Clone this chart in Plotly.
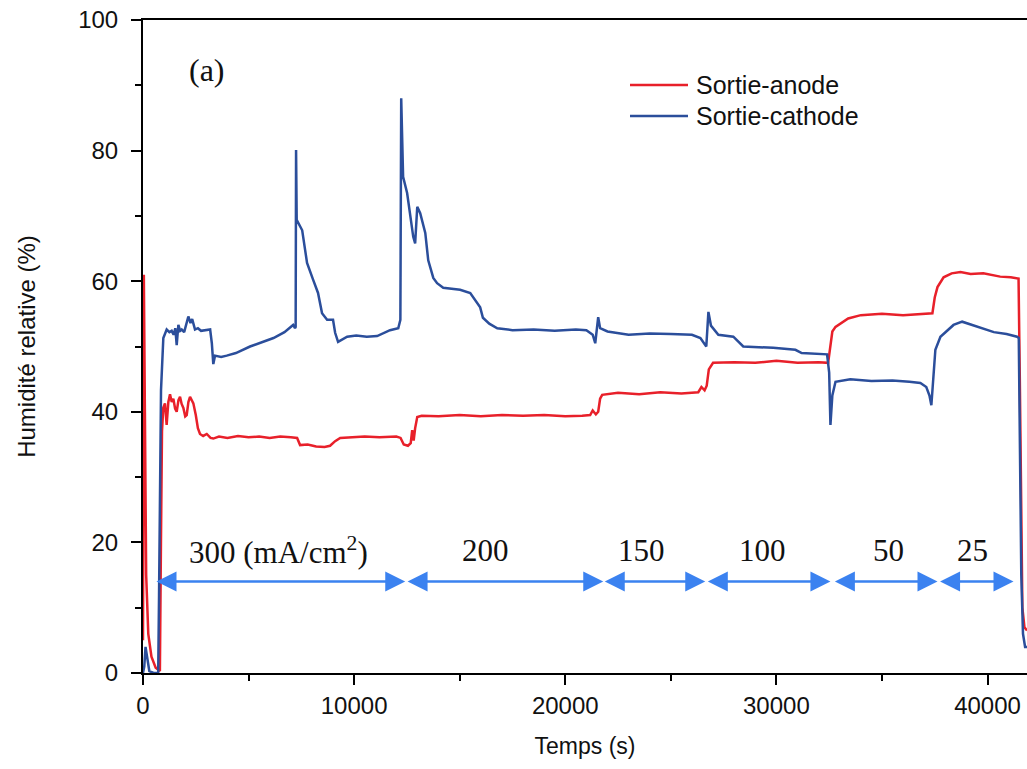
import plotly.graph_objects as go

# ---- data (time in s, relative humidity in %) ----
anode_t = [0, 40, 90, 150, 250, 400, 600, 800, 850, 900, 960, 1040, 1120, 1200, 1280, 1360, 1437, 1520,
           1596, 1680, 1754, 1830, 1912, 2000, 2070, 2150, 2227, 2300, 2385, 2500, 2600, 2700, 2850, 3020,
           3200, 3330, 3600, 4000, 4500, 5000, 5500, 6000, 6500, 7000, 7300, 7440, 7800, 8200, 8600, 8860,
           9100, 9340, 9800, 10500, 11200, 12000, 12200, 12350, 12550, 12680, 12750, 12820, 12890, 12990,
           13200, 14000, 15000, 16000, 17000, 18000, 19000, 20000, 20800, 21180, 21300, 21450, 21560, 21650,
           21750, 22500, 23500, 24500, 25500, 26300, 26450, 26600, 26700, 26800, 27000, 28000, 29000, 30000,
           31000, 32000, 32450, 32560, 32650, 32800, 33400, 34000, 35000, 36000, 37000, 37390, 37500, 37630,
           37920, 38300, 38720, 39200, 39800, 40200, 40600, 41100, 41470, 41530, 41580, 41650, 41750, 41870]
anode_rh = [5, 61, 40, 15, 6, 2.5, 0.8, 0.3, 20, 37, 40.6, 41.3, 38, 41.5, 42.7, 41.5, 42, 40.5,
            40, 41.8, 42.3, 41.2, 40.6, 39.3, 39.5, 41.5, 42.3, 41.8, 41.3, 39.5, 37.5, 36.6, 36.3, 36.6,
            36.0, 35.9, 36.2, 36.0, 36.3, 36.1, 36.2, 36.0, 36.2, 36.1, 36.0, 34.9, 35.0, 34.7, 34.6, 34.8,
            35.5, 36.0, 36.1, 36.2, 36.1, 36.2, 36.0, 35.0, 34.8, 35.2, 37.2, 35.6, 37.5, 39.2,
            39.4, 39.3, 39.5, 39.3, 39.5, 39.4, 39.5, 39.3, 39.4, 39.5, 40.2, 39.6, 40.0, 42.0,
            42.6, 42.9, 42.7, 43.0, 42.8, 43.0, 43.8, 43.3, 44.0, 46.5, 47.5, 47.6, 47.5, 47.8,
            47.5, 47.6, 47.5, 50.0, 52.3, 53.0, 54.3, 54.8, 55.0, 54.8, 55.0, 55.1, 57.5, 59.1,
            60.6, 61.2, 61.4, 61.1, 61.2, 60.9, 60.7, 60.6, 60.4, 45, 25, 10, 7, 6.5]

cathode_t = [0, 60, 120, 200, 300, 500, 720, 760, 800, 853, 963, 1122, 1250, 1358, 1450, 1530, 1596, 1675,
             1760, 1833, 1950, 2050, 2148, 2250, 2330, 2464, 2600, 2750, 3020, 3180, 3260, 3330, 3410, 3700,
             3965, 4400, 5070, 5600, 6180, 6700, 7110, 7200, 7230, 7250, 7280, 7540, 7770, 8060, 8290, 8480,
             8720, 9000, 9100, 9240, 9670, 10100, 10600, 11090, 11700, 12090, 12190, 12230, 12280, 12320,
             12510, 12800, 12890, 12940, 12990, 13130, 13370, 13510, 13750, 13930, 14220, 15020, 15500, 15970,
             16100, 16400, 16780, 17500, 18500, 19500, 20500, 21000, 21300, 21420, 21470, 21560, 21650, 22000,
             23000, 24000, 25000, 26000, 26400, 26680, 26780, 26900, 27250, 27960, 28430, 29850, 30900, 31200,
             32400, 32500, 32560, 32650, 32800, 33500, 34500, 35500, 36300, 36820, 37100, 37250, 37340, 37450,
             37530, 37770, 38390, 38800, 39500, 40300, 40900, 41400, 41480, 41540, 41600, 41680, 41780, 41870]
cathode_rh = [0, 1, 4, 2, 0.3, 0, 0, 12, 25, 43.3, 51.3, 52.6, 52.2, 52.4, 51.8, 52.8, 50.2, 53.3,
              52.4, 52.6, 52.2, 53.5, 54.6, 53.6, 54.2, 52.6, 52.8, 52.4, 52.5, 52.6, 50.5, 47.3, 48.6, 48.4,
              48.6, 49.0, 50.0, 50.6, 51.3, 52.2, 53.3, 52.8, 53.0, 80.1, 69.4, 67.8, 62.8, 60.2, 58.2, 55.1,
              54.1, 54.1, 52.1, 50.7, 51.5, 51.7, 51.5, 51.6, 52.5, 52.8, 54.1, 88.0, 78, 76.0,
              73.5, 66.8, 65.8, 68, 71.4, 70.4, 67.4, 63.2, 60.5, 59.7, 59.0, 58.7, 58.2, 56.0,
              54.4, 53.5, 52.8, 52.5, 52.6, 52.4, 52.6, 52.5, 51.8, 50.5, 52, 54.5, 52.8, 52.3,
              51.8, 52.0, 51.9, 51.8, 51.3, 50.0, 55.3, 53.2, 51.8, 51.5, 50.0, 49.8, 49.5, 49.0,
              48.8, 46, 38.0, 42.5, 44.6, 45.0, 44.7, 44.8, 44.6, 44.4, 43.8, 42.5, 41.0, 45.5,
              49.5, 51.5, 53.3, 53.8, 53.0, 52.2, 51.9, 51.5, 51.3, 35, 15, 6, 4, 4]

# current-density segments (mA/cm2): label, start, end
seg_labels = ["300 (mA/cm<sup>2</sup>)", "200", "150", "100", "50", "25"]
seg_start = [570, 12460, 21800, 26680, 32700, 37680]
seg_end = [12420, 21800, 26630, 32560, 37630, 41230]
seg_label_x = [6400, 16200, 23590, 29320, 35290, 39270]

x_ticks = [0, 10000, 20000, 30000, 40000]
y_ticks = [0, 20, 40, 60, 80, 100]

series_names = ["Sortie-anode", "Sortie-cathode"]
RED = "#e8202a"
BLUE = "#2b4e9b"
ARROW = "#3b82f0"

fig = go.Figure()
fig.add_trace(go.Scatter(x=anode_t, y=anode_rh, mode="lines", name=series_names[0],
                         line=dict(color=RED, width=2.5), showlegend=False))
fig.add_trace(go.Scatter(x=cathode_t, y=cathode_rh, mode="lines", name=series_names[1],
                         line=dict(color=BLUE, width=2.5), showlegend=False))

annotations = []
arrow_y = 14.0
for lab, s, e, lx in zip(seg_labels, seg_start, seg_end, seg_label_x):
    annotations.append(dict(x=e, y=arrow_y, ax=s, ay=arrow_y, xref="x", yref="y", axref="x", ayref="y",
                            text="", showarrow=True, arrowhead=2, startarrowhead=2, arrowside="end+start",
                            arrowsize=1.6, startarrowsize=1.6, arrowwidth=2.5, arrowcolor=ARROW,
                            standoff=0, startstandoff=0))
    annotations.append(dict(x=lx, y=18.8, xref="x", yref="y", text=lab, showarrow=False,
                            xanchor="center", yanchor="middle",
                            font=dict(family="Liberation Serif", size=31, color="#111111")))

# (a) panel label
annotations.append(dict(x=(207 - 143) / 884, y=(673 - 70) / 653, xref="paper", yref="paper", text="(a)",
                        showarrow=False, xanchor="center", yanchor="middle",
                        font=dict(family="Liberation Serif", size=32, color="#111111")))

# manual legend
shapes = []
leg_items = [(series_names[0], RED, 85), (series_names[1], BLUE, 116)]
for name, col, py in leg_items:
    yy = (673 - py) / 653
    shapes.append(dict(type="line", xref="paper", yref="paper", x0=(630 - 143) / 884, x1=(688 - 143) / 884,
                       y0=yy, y1=yy, line=dict(color=col, width=2.5)))
    annotations.append(dict(x=(694 - 143) / 884, y=yy, xref="paper", yref="paper", text=name,
                            showarrow=False, xanchor="left", yanchor="middle",
                            font=dict(family="Liberation Sans", size=25, color="#111111")))

axis_common = dict(showline=True, linecolor="black", linewidth=2, mirror=True, showgrid=False,
                   zeroline=False, ticks="outside", ticklen=10, tickwidth=2, tickcolor="black",
                   automargin=False, ticklabeloverflow="allow",
                   tickfont=dict(family="Liberation Sans", size=24, color="#111111"))

fig.update_layout(
    width=1027, height=769,
    margin=dict(l=143, r=0, t=20, b=96),
    paper_bgcolor="white", plot_bgcolor="white",
    xaxis=dict(range=[0, 41870], tickvals=x_ticks, ticktext=[str(v) for v in x_ticks],
               minor=dict(ticks="outside", ticklen=6, tickwidth=2, tickcolor="black", dtick=5000, tick0=0),
               title=dict(text="Temps (s)", font=dict(family="Liberation Sans", size=23, color="#111111"),
                          standoff=20),
               **axis_common),
    yaxis=dict(range=[0, 100], tickvals=y_ticks, ticktext=[str(v) for v in y_ticks],
               ticklabelstandoff=8,
               minor=dict(ticks="outside", ticklen=6, tickwidth=2, tickcolor="black", dtick=10, tick0=0),
               title=dict(text="Humidité relative (%)",
                          font=dict(family="Liberation Sans", size=24, color="#111111"), standoff=36),
               **axis_common),
    shapes=shapes,
    annotations=annotations,
)

# remove the default page margin so the figure fills the window exactly; hide the mode bar
fig.write_html("out.html", post_script="document.body.style.margin='0';",
               config={"displayModeBar": False})
